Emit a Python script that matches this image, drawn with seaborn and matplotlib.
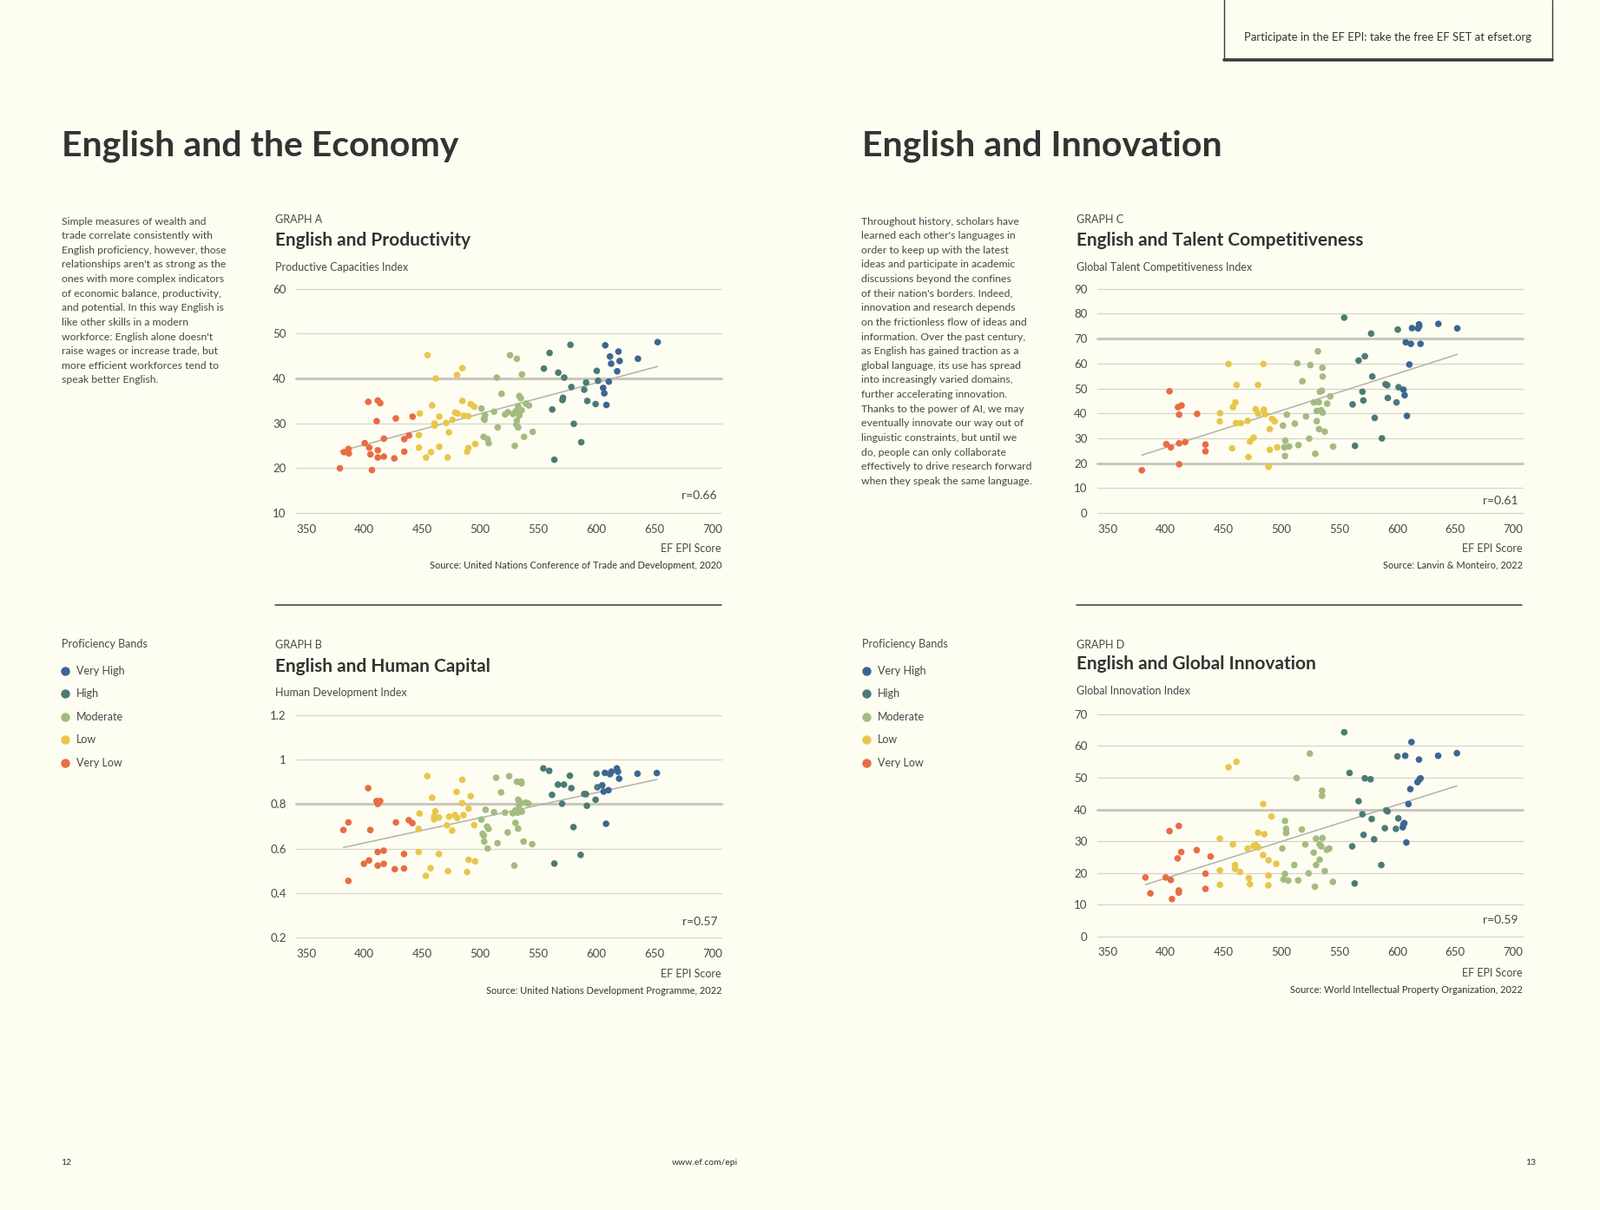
import numpy as np
import pandas as pd
import seaborn as sns
import matplotlib.pyplot as plt
from matplotlib.lines import Line2D

# EF EPI score (x) and index value (y) for each graph
a_epi = [379, 382.5, 386.4, 386.7, 400.4, 403.5, 404.3, 405.3, 406.6, 410.7, 411.7, 411.7, 411.7, 413.8, 416.9, 416.9, 425.9, 427.2, 434.5, 434.5, 438.6, 441.7,
         447.1, 447.1, 447.9, 453.3, 454.6, 457.5, 458.5, 460.6, 460.6, 461.6, 464.7, 464.7, 470.6, 471.9, 473.0, 476.1, 478.4, 480.0, 480.5, 484.6, 484.6, 485.9, 488.7, 489.8, 489.8, 491.8, 494.9, 495.7,
         501.1, 502.9, 503.2, 503.7, 504.2, 506.3, 507.3, 512.0, 514.3, 515.1, 518.4, 521.5, 523.9, 525.7, 528.3, 529.8, 530.6, 531.1, 531.6, 531.6, 532.7, 533.7, 533.7, 535.0, 535.7, 536.0, 537.8, 539.4, 542.0, 545.3, 532.7,
         554.9, 559.8, 562.1, 563.9, 567.3, 570.9, 571.4, 572.4, 577.8, 578.6, 580.7, 587.1, 589.7, 591.3, 592.3, 599.5, 600.5, 601.6,
         606.0, 607.0, 607.8, 608.8, 610.9, 611.9, 612.9, 618.1, 619.2, 620.2, 636.0, 653.0]
a_val = [20.0, 23.6, 24.3, 23.3, 25.6, 34.8, 24.6, 23.1, 19.6, 30.5, 35.1, 24.0, 22.4, 34.5, 26.6, 22.6, 22.2, 31.1, 26.5, 23.7, 27.3, 31.5,
         27.4, 24.6, 32.2, 22.4, 45.2, 23.6, 34.0, 30.0, 29.5, 40.0, 31.5, 24.8, 30.1, 22.4, 28.0, 30.8, 32.4, 40.8, 32.2, 42.3, 35.0, 31.7, 23.7, 31.6, 24.5, 34.3, 33.7, 25.4,
         33.3, 27.0, 31.1, 30.8, 31.8, 26.5, 25.6, 32.6, 40.2, 29.1, 36.6, 32.0, 32.5, 45.2, 32.1, 25.0, 32.7, 29.7, 44.4, 30.6, 33.8, 36.1, 31.8, 35.6, 32.9, 40.9, 27.0, 34.4, 34.0, 28.1, 29.1,
         42.2, 45.7, 33.1, 21.9, 41.3, 35.2, 35.7, 40.2, 47.5, 38.1, 29.9, 25.8, 37.5, 39.1, 35.0, 34.3, 41.7, 39.5,
         37.9, 36.7, 47.4, 34.1, 39.3, 44.9, 43.3, 41.6, 46.0, 43.9, 44.4, 48.1]

b_epi = [382.0, 386.3, 386.3, 399.7, 403.4, 404.1, 405.2, 410.6, 411.6, 412.6, 413.7, 411.6, 411.6, 416.8, 416.8, 426.3, 427.3, 434.3, 434.3, 438.4, 441.5,
         446.9, 446.9, 447.7, 453.1, 454.4, 457.2, 458.5, 460.3, 460.3, 461.3, 464.4, 464.4, 471.4, 472.2, 473.2, 475.8, 478.1, 479.6, 480.2, 484.3, 484.5, 485.6, 488.7, 490.0, 490.0, 491.8, 494.8, 495.6,
         501.0, 502.1, 503.1, 503.4, 504.6, 505.9, 506.4, 507.2, 511.9, 513.7, 514.9, 518.0, 521.4, 523.7, 525.0, 528.1, 529.4, 530.4, 530.4, 531.7, 532.2, 532.7, 532.7, 533.5, 534.3, 535.3, 535.6, 535.8, 534.8, 537.4, 539.4, 541.5, 544.8,
         554.4, 559.5, 561.9, 563.9, 567.0, 570.6, 572.2, 577.3, 578.6, 580.4, 586.6, 589.7, 591.2, 592.0, 599.5, 600.3, 601.0,
         605.2, 606.4, 607.5, 608.5, 610.6, 611.9, 613.1, 617.8, 618.8, 619.8, 635.6, 652.3]
b_val = [0.684, 0.718, 0.455, 0.532, 0.872, 0.547, 0.684, 0.814, 0.801, 0.811, 0.814, 0.585, 0.524, 0.591, 0.532, 0.508, 0.718, 0.576, 0.511, 0.728, 0.715,
         0.689, 0.585, 0.758, 0.478, 0.926, 0.512, 0.829, 0.745, 0.732, 0.768, 0.740, 0.576, 0.705, 0.499, 0.744, 0.681, 0.751, 0.855, 0.738, 0.805, 0.910, 0.751, 0.495, 0.780, 0.550, 0.836, 0.706, 0.543,
         0.731, 0.667, 0.659, 0.632, 0.775, 0.699, 0.601, 0.689, 0.764, 0.919, 0.625, 0.853, 0.762, 0.673, 0.926, 0.759, 0.524, 0.716, 0.772, 0.901, 0.762, 0.690, 0.820, 0.794, 0.810, 0.902, 0.894, 0.766, 0.803, 0.632, 0.807, 0.803, 0.620,
         0.961, 0.950, 0.842, 0.533, 0.888, 0.802, 0.888, 0.928, 0.872, 0.697, 0.572, 0.846, 0.845, 0.793, 0.820, 0.937, 0.876,
         0.885, 0.857, 0.941, 0.712, 0.863, 0.935, 0.946, 0.961, 0.946, 0.915, 0.937, 0.940]

c_epi = [379.7, 400.8, 404.7, 403.6, 410.9, 411.9, 411.9, 411.9, 414.0, 417.1, 427.4, 434.6, 434.6,
         447.2, 446.9, 454.5, 457.6, 458.3, 460.4, 461.4, 460.9, 465.0, 471.0, 471.7, 473.0, 476.1, 477.9, 480.0, 480.0, 484.6, 484.9, 485.9, 490.1, 490.1, 489.0, 492.1, 494.4, 496.5,
         501.4, 503.2, 503.5, 502.7, 504.8, 506.8, 511.7, 513.8, 514.8, 518.2, 521.3, 524.1, 525.1, 528.2, 529.3, 530.6, 530.6, 531.6, 532.4, 532.6, 533.4, 534.4, 535.0, 535.5, 535.7, 535.7, 537.5, 539.6, 542.2, 544.7,
         554.3, 561.5, 563.6, 566.7, 570.0, 570.8, 572.1, 577.5, 578.5, 580.6, 586.8, 589.9, 591.4, 591.9, 599.4, 600.5, 601.2,
         605.4, 606.4, 607.4, 608.4, 610.5, 611.8, 612.8, 618.0, 618.8, 619.0, 620.1, 635.5, 651.8]
c_val = [17.2, 27.7, 26.4, 48.9, 42.5, 39.5, 19.6, 28.0, 43.2, 28.5, 39.8, 27.5, 24.8,
         40.1, 36.8, 59.8, 26.0, 42.5, 44.4, 51.4, 36.1, 36.1, 37.0, 22.5, 28.7, 30.3, 41.7, 51.4, 39.9, 59.8, 41.5, 39.7, 33.7, 25.4, 18.6, 37.8, 36.8, 26.4,
         35.1, 22.9, 29.1, 26.4, 39.5, 26.7, 35.9, 60.1, 27.3, 52.9, 38.8, 29.9, 59.4, 44.4, 23.8, 36.9, 41.0, 64.9, 44.5, 33.7, 48.7, 41.3, 49.1, 58.3, 54.8, 40.3, 32.7, 43.9, 46.8, 26.7,
         78.4, 43.6, 27.0, 61.2, 48.7, 45.2, 62.9, 72.0, 54.8, 38.2, 30.0, 51.7, 51.3, 46.2, 44.4, 73.6, 50.5,
         49.5, 47.3, 68.5, 39.0, 59.6, 67.9, 74.2, 74.1, 75.7, 75.0, 67.9, 75.9, 74.1]

d_epi = [382.8, 387.1, 400.3, 403.6, 404.7, 405.7, 410.6, 411.6, 411.6, 411.6, 413.7, 427.1, 434.6, 434.6, 439.0,
         447.0, 447.0, 447.0, 454.5, 458.3, 460.1, 460.1, 461.4, 464.5, 471.0, 472.0, 473.0, 476.1, 477.9, 480.0, 480.0, 484.4, 484.4, 485.4, 489.0, 489.0, 488.8, 491.6, 495.7,
         500.9, 501.9, 503.2, 503.2, 504.2, 504.2, 506.0, 511.2, 513.3, 514.6, 517.7, 520.7, 523.6, 524.6, 528.0, 529.0, 530.0, 530.0, 533.1, 533.1, 534.4, 535.2, 535.2, 535.5, 537.5, 539.3, 541.4, 544.5,
         554.3, 558.9, 561.2, 563.3, 566.7, 570.0, 571.0, 572.1, 577.0, 578.0, 580.1, 586.3, 589.4, 590.6, 591.7, 598.9, 600.2, 601.0,
         604.8, 605.4, 606.1, 606.9, 607.9, 609.7, 611.3, 612.3, 617.5, 618.8, 619.3, 620.1, 635.3, 651.5]
d_val = [18.6, 13.6, 18.6, 33.2, 17.8, 11.8, 24.6, 34.8, 14.5, 13.8, 26.6, 27.2, 19.8, 15.0, 25.2,
         30.8, 20.8, 16.3, 53.3, 29.0, 22.5, 21.3, 55.0, 20.3, 27.7, 18.4, 16.5, 28.5, 28.8, 32.7, 28.1, 41.7, 25.6, 32.2, 24.0, 19.2, 16.1, 37.8, 22.9,
         27.7, 18.0, 36.4, 19.7, 33.9, 32.6, 17.6, 22.5, 49.9, 17.7, 33.7, 29.0, 19.9, 57.6, 26.4, 15.7, 30.8, 22.5, 29.0, 24.2, 28.4, 45.9, 44.3, 31.0, 20.6, 27.3, 27.7, 17.2,
         64.3, 51.5, 28.4, 16.7, 42.6, 38.5, 32.0, 49.8, 49.5, 37.0, 30.6, 22.5, 34.1, 39.7, 39.4, 33.9, 56.7, 37.2,
         34.4, 35.3, 35.7, 56.9, 29.6, 41.7, 46.4, 61.2, 48.6, 55.7, 49.5, 49.8, 56.9, 57.7]

bands = ["Very Low", "Low", "Moderate", "High", "Very High"]
band_cuts = [444, 498.5, 552, 603]
band_colors = ["#e86c44", "#e8c64c", "#a3bb80", "#4b7b77", "#3b6694"]
legend_order = ["Very High", "High", "Moderate", "Low", "Very Low"]

x_ticks = [350, 400, 450, 500, 550, 600, 650, 700]
a_ticks = [10, 20, 30, 40, 50, 60]
b_ticks = [0.2, 0.4, 0.6, 0.8, 1.0, 1.2]
b_tick_labels = ["0.2", "0.4", "0.6", "0.8", "1", "1.2"]
c_ticks = [0, 10, 20, 30, 40, 50, 60, 70, 80, 90]
d_ticks = [0, 10, 20, 30, 40, 50, 60, 70]

BG = "#fefdf1"
DARK = "#333333"
TXT = "#484848"
GRID = "#d6d5cc"

sns.set_theme(style="white")
plt.rcParams["font.family"] = ["Lato", "DejaVu Sans"]

fig = plt.figure(figsize=(18.43, 13.94), dpi=100)
fig.patch.set_facecolor(BG)


def band_of(v):
    return bands[int(np.searchsorted(band_cuts, v, side="right"))]


def draw_panel(rect, epi, val, ticks, labels, thick, r_text, r_y):
    ax = fig.add_axes(rect)
    ax.set_facecolor(BG)
    df = pd.DataFrame({"epi": epi, "val": val})
    df["band"] = df["epi"].apply(band_of)
    for t in ticks:
        ax.axhline(t, color="#c9c8bf" if t in thick else GRID,
                   lw=2.2 if t in thick else 0.9, clip_on=False, zorder=0)
    sns.regplot(data=df, x="epi", y="val", scatter=False, ci=None, truncate=True,
                line_kws=dict(color="#b3b1a9", lw=1.1), ax=ax)
    sns.scatterplot(data=df, x="epi", y="val", hue="band", hue_order=bands,
                    palette=band_colors, s=30, linewidth=0, legend=False,
                    ax=ax, zorder=3)
    ax.set_xlim(341, 708)
    ax.set_ylim(ticks[0], ticks[-1])
    ax.set_xticks(x_ticks)
    ax.set_yticks(ticks)
    ax.set_yticklabels(labels)
    ax.tick_params(length=0, labelsize=9.5, colors=TXT, pad=9)
    ax.tick_params(axis="y", pad=8)
    ax.set_xlabel("")
    ax.set_ylabel("")
    sns.despine(ax=ax, left=True, bottom=True)
    ax.text(0.99, r_y, r_text, transform=ax.transAxes, ha="right", va="center",
            fontsize=10, color=TXT)
    return ax


draw_panel([0.1849, 0.5759, 0.2660, 0.1855], a_epi, a_val, a_ticks,
           [str(t) for t in a_ticks], [40], "r=0.66", 0.077)
draw_panel([0.1849, 0.2251, 0.2660, 0.1838], b_epi, b_val, b_ticks,
           b_tick_labels, [0.8], "r=0.57", 0.073)
draw_panel([0.6856, 0.5759, 0.2659, 0.1855], c_epi, c_val, c_ticks,
           [str(t) for t in c_ticks], [20, 70], "r=0.61", 0.055)
draw_panel([0.6856, 0.2260, 0.2659, 0.1838], d_epi, d_val, d_ticks,
           [str(t) for t in d_ticks], [40], "r=0.59", 0.073)

# section headings
fig.text(0.0383, 0.8790, "English and the Economy", fontsize=29.5, fontweight="bold",
         color=DARK, va="center")
fig.text(0.5389, 0.8790, "English and Innovation", fontsize=29.5, fontweight="bold",
         color=DARK, va="center")

left_para = ("Simple measures of wealth and\ntrade correlate consistently with\n"
             "English proficiency, however, those\nrelationships aren't as strong as the\n"
             "ones with more complex indicators\nof economic balance, productivity,\n"
             "and potential. In this way English is\nlike other skills in a modern\n"
             "workforce: English alone doesn't\nraise wages or increase trade, but\n"
             "more efficient workforces tend to\nspeak better English.")
right_para = ("Throughout history, scholars have\nlearned each other's languages in\n"
              "order to keep up with the latest\nideas and participate in academic\n"
              "discussions beyond the confines\nof their nation's borders. Indeed,\n"
              "innovation and research depends\non the frictionless flow of ideas and\n"
              "information. Over the past century,\nas English has gained traction as a\n"
              "global language, its use has spread\ninto increasingly varied domains,\n"
              "further accelerating innovation.\nThanks to the power of AI, we may\n"
              "eventually innovate our way out of\nlinguistic constraints, but until we\n"
              "do, people can only collaborate\neffectively to drive research forward\n"
              "when they speak the same language.")
fig.text(0.0383, 0.8210, left_para, fontsize=8.8, color=TXT, va="top", linespacing=1.625)
fig.text(0.5383, 0.8210, right_para, fontsize=8.8, color=TXT, va="top", linespacing=1.625)

# graph headers and footers
heads = [
    (0.1722, 0.4509, 0.8187, 0.8010, 0.7791, 0.5464, 0.5329, "GRAPH A", "English and Productivity",
     "Productive Capacities Index", "Source: United Nations Conference of Trade and Development, 2020"),
    (0.1722, 0.4509, 0.4671, 0.4494, 0.4275, 0.1948, 0.1813, "GRAPH B", "English and Human Capital",
     "Human Development Index", "Source: United Nations Development Programme, 2022"),
    (0.6728, 0.9515, 0.8187, 0.8010, 0.7791, 0.5464, 0.5329, "GRAPH C", "English and Talent Competitiveness",
     "Global Talent Competitiveness Index", "Source: Lanvin & Monteiro, 2022"),
    (0.6728, 0.9515, 0.4671, 0.4511, 0.4292, 0.1956, 0.1821, "GRAPH D", "English and Global Innovation",
     "Global Innovation Index", "Source: World Intellectual Property Organization, 2022"),
]
for x0, x1, yg, yt, yl, ye, ys, g, title, ylab, src in heads:
    fig.text(x0, yg, g, fontsize=9, color=TXT, va="center")
    fig.text(x0, yt, title, fontsize=15, fontweight="bold", color=DARK, va="center")
    fig.text(x0, yl, ylab, fontsize=9, color=TXT, va="center")
    fig.text(x1, ye, "EF EPI Score", fontsize=9, color=TXT, va="center", ha="right")
    fig.text(x1, ys, src, fontsize=7.9, color=DARK, va="center", ha="right")

# separators between graphs
fig.add_artist(Line2D([0.1722, 0.4509], [0.5000, 0.5000], color="#3a3a3a", lw=1.1,
                      transform=fig.transFigure))
fig.add_artist(Line2D([0.6728, 0.9509], [0.5000, 0.5000], color="#3a3a3a", lw=1.1,
                      transform=fig.transFigure))

# proficiency band legends
legend_y = [0.4452, 0.4267, 0.4073, 0.3887, 0.3693]
for mx, tx in [(0.0408, 0.0478), (0.5415, 0.5485)]:
    fig.text(mx - 0.0025, 0.4680, "Proficiency Bands", fontsize=9, color=TXT, va="center")
    for name, yy in zip(legend_order, legend_y):
        col = band_colors[bands.index(name)]
        fig.add_artist(Line2D([mx], [yy], marker="o", markersize=7.5, color=col,
                              markeredgewidth=0, linestyle="none",
                              transform=fig.transFigure))
        fig.text(tx, yy, name, fontsize=9, color=TXT, va="center")

# top-right banner box
fig.add_artist(Line2D([0.7653, 0.7653], [1.0, 0.9503], color="#3a3a3a", lw=1,
                      transform=fig.transFigure))
fig.add_artist(Line2D([0.9700, 0.9700], [1.0, 0.9503], color="#3a3a3a", lw=1,
                      transform=fig.transFigure))
fig.add_artist(Line2D([0.7653, 0.9700], [0.9503, 0.9503], color="#3a3a3a", lw=2.6,
                      transform=fig.transFigure))
fig.text(0.8676, 0.9688, "Participate in the EF EPI: take the free EF SET at efset.org",
         fontsize=9.4, color=DARK, ha="center", va="center")

# page footer
fig.text(0.0383, 0.0388, "12", fontsize=7.5, color=DARK, va="center")
fig.text(0.4407, 0.0388, "www.ef.com/epi", fontsize=7.5, color=DARK, va="center", ha="center")
fig.text(0.9600, 0.0388, "13", fontsize=7.5, color=DARK, va="center", ha="right")

fig.savefig("out.png", dpi=100, facecolor=BG)
